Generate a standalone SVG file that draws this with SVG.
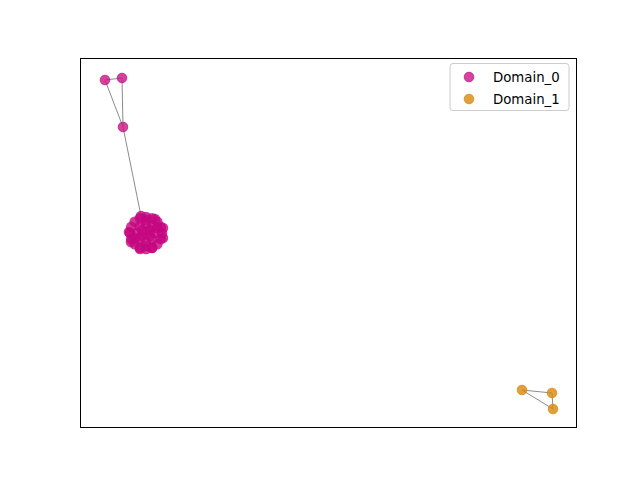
<svg xmlns="http://www.w3.org/2000/svg" width="640" height="480" viewBox="0 0 640 480">
<style>
.d0{fill:#C71585;fill-opacity:0.8;stroke:#C71585;stroke-opacity:0.8;stroke-width:1}
.d1{fill:#d8890c;fill-opacity:0.8;stroke:#d8890c;stroke-opacity:0.8;stroke-width:1}
#cluster circle{stroke:none;fill:#C4067f;fill-opacity:0.8}
.e{stroke:#8c8c8c;stroke-width:1;fill:none}
.t{font-family:"DejaVu Sans",sans-serif;font-size:13.3px;fill:#000}
</style>
<rect width="640" height="480" fill="#fff"/>
<rect x="80.5" y="58.5" width="496" height="369" fill="#fff" stroke="#000" stroke-width="1"/>
<g id="edges">
<line class="e" x1="105" y1="80" x2="122" y2="78"/>
<line class="e" x1="105" y1="80" x2="123" y2="127"/>
<line class="e" x1="122" y1="78" x2="123" y2="127"/>
<line class="e" x1="123" y1="127" x2="141" y2="216"/>
<line class="e" x1="522" y1="390" x2="552" y2="393"/>
<line class="e" x1="522" y1="390" x2="553" y2="409"/>
<line class="e" x1="552" y1="393" x2="553" y2="409"/>
</g>
<g id="n_a"><circle class="d0" cx="105" cy="80" r="4.8"/></g>
<g id="n_b"><circle class="d0" cx="122" cy="78" r="4.8"/></g>
<g id="n_c"><circle class="d0" cx="123" cy="127" r="4.8"/></g>
<g id="cluster">
<g id="n1"><circle cx="162" cy="233" r="5.3"/></g>
<g id="n2"><circle cx="160.8" cy="239.1" r="5.3"/></g>
<g id="n3"><circle cx="157.3" cy="244.3" r="5.3"/></g>
<g id="n4"><circle cx="152.1" cy="247.8" r="5.3"/></g>
<g id="n5"><circle cx="146" cy="249" r="5.3"/></g>
<g id="n6"><circle cx="139.9" cy="247.8" r="5.3"/></g>
<g id="n7"><circle cx="134.7" cy="244.3" r="5.3"/></g>
<g id="n8"><circle cx="131.2" cy="239.1" r="5.3"/></g>
<g id="n9"><circle cx="130" cy="233" r="5.3"/></g>
<g id="n10"><circle cx="131.2" cy="226.9" r="5.3"/></g>
<g id="n11"><circle cx="134.7" cy="221.7" r="5.3"/></g>
<g id="n12"><circle cx="139.9" cy="218.2" r="5.3"/></g>
<g id="n13"><circle cx="146" cy="217" r="5.3"/></g>
<g id="n14"><circle cx="152.1" cy="218.2" r="5.3"/></g>
<g id="n15"><circle cx="157.3" cy="221.7" r="5.3"/></g>
<g id="n16"><circle cx="160.8" cy="226.9" r="5.3"/></g>
<g id="n17"><circle cx="141" cy="216" r="5.3"/></g>
<g id="n18"><circle cx="163" cy="238" r="5.3"/></g>
<g id="n19"><circle cx="129" cy="232" r="5.3"/></g>
<g id="n20"><circle cx="155" cy="219" r="5.3"/></g>
<g id="n21"><circle cx="140" cy="249" r="5.3"/></g>
<g id="n22"><circle cx="152" cy="248" r="5.3"/></g>
<g id="n23"><circle cx="131" cy="242" r="5.3"/></g>
<g id="n24"><circle cx="163" cy="228" r="5.3"/></g>
<g id="n25"><circle cx="155" cy="233" r="5.3"/></g>
<g id="n26"><circle cx="152.4" cy="239.4" r="5.3"/></g>
<g id="n27"><circle cx="146" cy="242" r="5.3"/></g>
<g id="n28"><circle cx="139.6" cy="239.4" r="5.3"/></g>
<g id="n29"><circle cx="137" cy="233" r="5.3"/></g>
<g id="n30"><circle cx="139.6" cy="226.6" r="5.3"/></g>
<g id="n31"><circle cx="146" cy="224" r="5.3"/></g>
<g id="n32"><circle cx="152.4" cy="226.6" r="5.3"/></g>
<g id="n33"><circle cx="146" cy="233" r="5.3"/></g>
<g id="n34"><circle cx="150" cy="230" r="5.3"/></g>
<g id="n35"><circle cx="142" cy="236" r="5.3"/></g>
<g id="n36"><circle cx="150" cy="236" r="5.3"/></g>
<g id="n37"><circle cx="142" cy="230" r="5.3"/></g>
<g id="n38"><circle cx="157" cy="228" r="5.3"/></g>
<g id="n39"><circle cx="135" cy="238" r="5.3"/></g>
<g id="n40"><circle cx="146" cy="246" r="5.3"/></g>
<g id="n41"><circle cx="146" cy="220" r="5.3"/></g>
</g>
<g id="n_d"><circle class="d1" cx="522" cy="390" r="4.8"/></g>
<g id="n_e"><circle class="d1" cx="552" cy="393" r="4.8"/></g>
<g id="n_f"><circle class="d1" cx="553" cy="409" r="4.8"/></g>
<g id="legend">
<rect x="450" y="63.5" width="119" height="47" rx="3" fill="#fff" fill-opacity="0.8" stroke="#cccccc" stroke-width="1"/>
<circle class="d0" cx="469" cy="77" r="4.8"/>
<circle class="d1" cx="469" cy="99" r="4.8"/>
<text class="t" x="493" y="81.5">Domain_0</text>
<text class="t" x="493" y="104">Domain_1</text>
</g>
</svg>
